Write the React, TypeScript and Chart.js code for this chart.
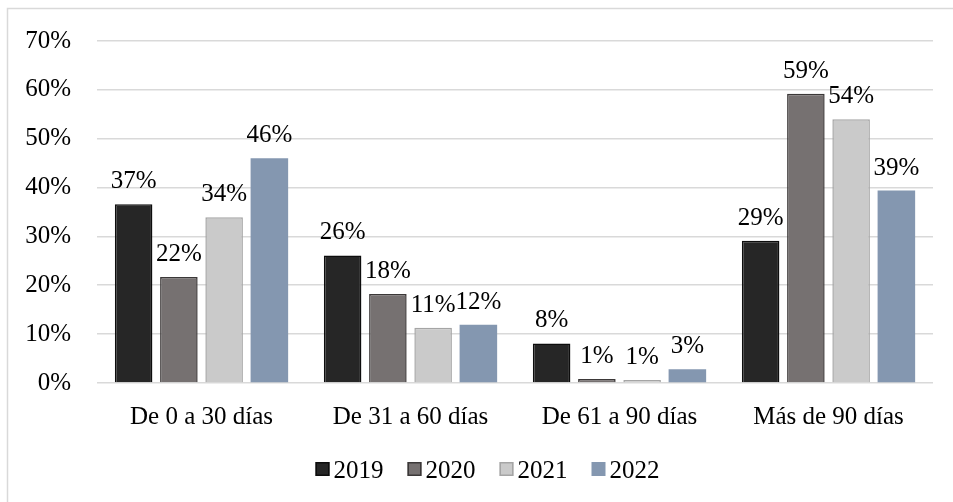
import React, { useEffect, useRef } from 'react';
import { Chart, registerables } from 'chart.js';

Chart.register(...registerables);

const categories = ['De 0 a 30 días', 'De 31 a 60 días', 'De 61 a 90 días', 'Más de 90 días'];
const seriesNames = ['2019', '2020', '2021', '2022'];
const values2019 = [36.6, 26.1, 8.1, 29.1];
const values2020 = [21.7, 18.2, 0.8, 59.2];
const values2021 = [33.9, 11.3, 0.6, 54.0];
const values2022 = [46.0, 11.9, 2.8, 39.4];
const yMin = 0;
const yMax = 70;
const yStep = 10;

const fills = ['#262626', '#767171', '#cacaca', '#8497b0'];
const strokes = ['#0d0d0d', '#3b3838', '#a5a5a5', '#8497b0'];
const strokeWidths = [1.5, 1.5, 1.5, 0];

const FONT = '"Liberation Serif", "Times New Roman", serif';
const FS = 25;

const framePlugin = {
  id: 'frame',
  beforeDraw(chart: any) {
    const { ctx, width, height } = chart;
    ctx.save();
    ctx.fillStyle = '#ffffff';
    ctx.fillRect(0, 0, width, height);
    ctx.strokeStyle = '#d9d9d9';
    ctx.lineWidth = 1.5;
    ctx.strokeRect(7.5, 8.5, width + 20, height + 20);
    ctx.restore();
  },
};

const valueLabelPlugin = {
  id: 'valueLabels',
  afterDatasetsDraw(chart: any) {
    const { ctx } = chart;
    ctx.save();
    ctx.font = `${FS}px ${FONT}`;
    ctx.fillStyle = '#000000';
    ctx.textAlign = 'center';
    ctx.textBaseline = 'alphabetic';
    chart.data.datasets.forEach((ds: any, i: number) => {
      const meta = chart.getDatasetMeta(i);
      meta.data.forEach((el: any, j: number) => {
        const v = ds.data[j];
        ctx.fillText(`${Math.round(v)}%`, el.x, el.y - 16);
      });
    });
    ctx.restore();
  },
};

const legendPlugin = {
  id: 'customLegend',
  afterDraw(chart: any) {
    const { ctx } = chart;
    ctx.save();
    ctx.font = `${FS}px ${FONT}`;
    const box = 14;
    const gapText = 4;
    const gapItem = 24;
    const widths = seriesNames.map((n) => ctx.measureText(n).width);
    const total = widths.reduce((a, w) => a + box + gapText + w, 0) + gapItem * (seriesNames.length - 1);
    let x = 487.5 - total / 2;
    const cy = 469;
    seriesNames.forEach((n, i) => {
      ctx.fillStyle = fills[i];
      ctx.fillRect(x, cy - box / 2, box, box);
      if (strokeWidths[i] > 0) {
        ctx.strokeStyle = strokes[i];
        ctx.lineWidth = 1.5;
        ctx.strokeRect(x + 0.75, cy - box / 2 + 0.75, box - 1.5, box - 1.5);
      }
      ctx.fillStyle = '#000000';
      ctx.textAlign = 'left';
      ctx.textBaseline = 'alphabetic';
      ctx.fillText(n, x + box + gapText, cy + 8.5);
      x += box + gapText + widths[i] + gapItem;
    });
    ctx.restore();
  },
};

export default function App() {
  const ref = useRef<HTMLCanvasElement | null>(null);

  useEffect(() => {
    if (!ref.current) return;
    const allValues = [values2019, values2020, values2021, values2022];
    const chart = new Chart(ref.current, {
      type: 'bar',
      data: {
        labels: categories,
        datasets: seriesNames.map((name, i) => ({
          label: name,
          data: allValues[i],
          backgroundColor: fills[i],
          borderColor: strokes[i],
          borderWidth: strokeWidths[i],
          categoryPercentage: 0.866,
          barPercentage: 0.83,
        })),
      },
      options: {
        animation: false,
        responsive: true,
        maintainAspectRatio: false,
        layout: { padding: { left: 0, right: 20, top: 38, bottom: 69 } },
        plugins: {
          legend: { display: false },
          tooltip: { enabled: false },
        },
        scales: {
          x: {
            grid: { display: false, drawTicks: false },
            border: { display: false },
            ticks: {
              color: '#000000',
              font: { family: FONT, size: FS },
              padding: 19,
              maxRotation: 0,
            },
            afterFit: (scale: any) => {
              scale.height = 50;
            },
          },
          y: {
            min: yMin,
            max: yMax,
            grid: { color: '#d9d9d9', lineWidth: 1.6, drawTicks: false },
            border: { display: false },
            ticks: {
              stepSize: yStep,
              color: '#000000',
              font: { family: FONT, size: FS },
              padding: 26,
              callback: (v: any) => `${v}%`,
            },
            afterFit: (scale: any) => {
              scale.width = 97;
            },
          },
        },
      },
      plugins: [framePlugin, valueLabelPlugin, legendPlugin],
    });
    return () => chart.destroy();
  }, []);

  return (
    <div style={{ position: 'fixed', left: 0, top: 0, width: 953, height: 502 }}>
      <canvas ref={ref} />
    </div>
  );
}
